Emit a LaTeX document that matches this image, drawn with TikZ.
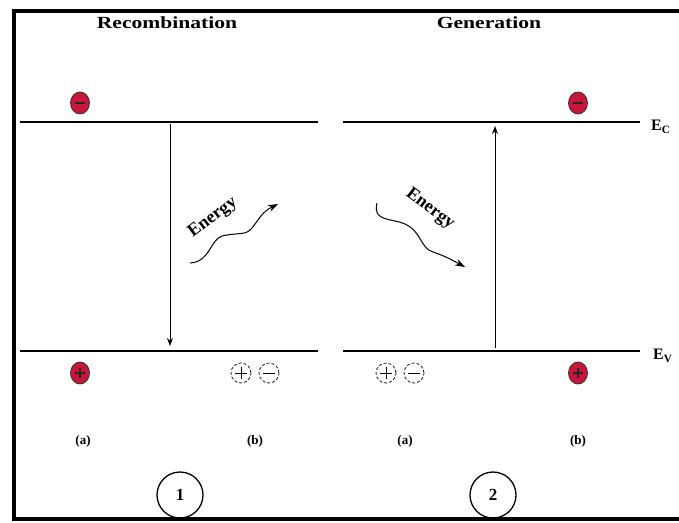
\documentclass[tikz,border=0pt]{standalone}
\usepackage{fontspec}
\setmainfont{Liberation Serif}
\usetikzlibrary{arrows.meta,calc,shapes.geometric}
\definecolor{carrier}{HTML}{C8163A}
\tikzset{
  x=1pt,y=-1pt,
  level/.style={line width=1.3pt},
  title/.style={font=\bfseries\fontsize{17}{17}\selectfont,xscale=1.27},
  sublabel/.style={font=\bfseries\fontsize{13}{13}\selectfont},
  energylabel/.style={font=\bfseries\fontsize{18}{18}\selectfont,inner sep=1pt},
  carrierdot/.style={ellipse,draw=black!80,line width=0.8pt,fill=carrier,minimum width=19pt,minimum height=22pt,inner sep=0pt},
  pairdot/.style={circle,draw=black,line width=0.7pt,densely dashed,minimum size=20pt,inner sep=0pt},
  transition/.style={line width=1pt,-{Stealth[length=8pt,width=6pt]}},
  photon/.style={line width=1pt,-{Stealth[length=10pt,width=7pt]}},
  numcirc/.style={circle,draw=black,line width=1.3pt,minimum size=46pt,inner sep=0pt,font=\bfseries\fontsize{17}{17}\selectfont},
}
\begin{document}
\begin{tikzpicture}
\useasboundingbox (0,0) rectangle (679,522);
% outer frame (open on the right)
\draw[line width=3.5pt] (690,11) -- (14,11) -- (14,519) -- (690,519);
% titles
\node[title] (trec) at (167,23) {Recombination};
\node[title] (tgen) at (489,23) {Generation};
% band edges
\draw[level] (20,122) -- (318,122);
\draw[level] (343,122) -- (640,122);
\draw[level] (20,351) -- (318,351);
\draw[level] (343,351) -- (640,351);
\node[font=\bfseries\fontsize{16}{16}\selectfont,anchor=west,inner sep=0pt] (ec) at (651,127) {E\textsubscript{C}};
\node[font=\bfseries\fontsize{16}{16}\selectfont,anchor=west,inner sep=0pt] (ev) at (653,356) {E\textsubscript{V}};
% electrons in the conduction band
\node[carrierdot] (e1) at (80,103) {};
\draw[black!85,line width=1.1pt] ($(e1)+(-5,0)$) -- ($(e1)+(5,0)$);
\node[carrierdot] (e2) at (578,103) {};
\draw[black!85,line width=1.1pt] ($(e2)+(-5,0)$) -- ($(e2)+(5,0)$);
% holes in the valence band
\node[carrierdot] (h1) at (80,373) {};
\draw[black!85,line width=1.1pt] ($(h1)+(-5,0)$) -- ($(h1)+(5,0)$) ($(h1)+(0,-5)$) -- ($(h1)+(0,5)$);
\node[carrierdot] (h2) at (578,373) {};
\draw[black!85,line width=1.1pt] ($(h2)+(-5,0)$) -- ($(h2)+(5,0)$) ($(h2)+(0,-5)$) -- ($(h2)+(0,5)$);
% electron-hole pairs
\node[pairdot] (p1) at (241,373) {};
\node[pairdot] (m1) at (269,373) {};
\node[pairdot] (p2) at (386,373) {};
\node[pairdot] (m2) at (414,373) {};
\foreach \n in {p1,p2}{
  \draw[line width=1pt] ($(\n)+(-6,0)$) -- ($(\n)+(6,0)$) ($(\n)+(0,-6)$) -- ($(\n)+(0,6)$);
}
\foreach \n in {m1,m2}{
  \draw[line width=1pt] ($(\n)+(-6,0)$) -- ($(\n)+(6,0)$);
}
% transitions
\coordinate (rtop) at (170,124);
\coordinate (rbot) at (170,346);
\draw[transition] (rtop) -- (rbot);
\coordinate (gbot) at (495,348);
\coordinate (gtop) at (495,126);
\draw[transition] (gbot) -- (gtop);
% emitted / absorbed energy
\coordinate (w1a) at (190,263);
\coordinate (w1b) at (278,204);
\draw[photon] (w1a) .. controls (210,262) and (210,240) .. (222,236)
  .. controls (240,232) and (245,236) .. (252,228)
  .. controls (260,218) and (262,212) .. (w1b);
\node[energylabel,rotate=37] (en1) at (213,218) {Energy};
\coordinate (w2a) at (377,203);
\coordinate (w2b) at (465,267);
\draw[photon] (w2a) .. controls (372,222) and (392,218) .. (405,224)
  .. controls (422,232) and (420,248) .. (433,252)
  .. controls (445,256) and (452,260) .. (w2b);
\node[energylabel,rotate=-37] (en2) at (430,209) {Energy};
% case labels
\node[sublabel] (la1) at (83,441) {(a)};
\node[sublabel] (lb1) at (255,441) {(b)};
\node[sublabel] (la2) at (405,441) {(a)};
\node[sublabel] (lb2) at (578,441) {(b)};
\node[numcirc] (n1) at (180,495) {1};
\node[numcirc] (n2) at (493,495) {2};
\end{tikzpicture}
\end{document}
